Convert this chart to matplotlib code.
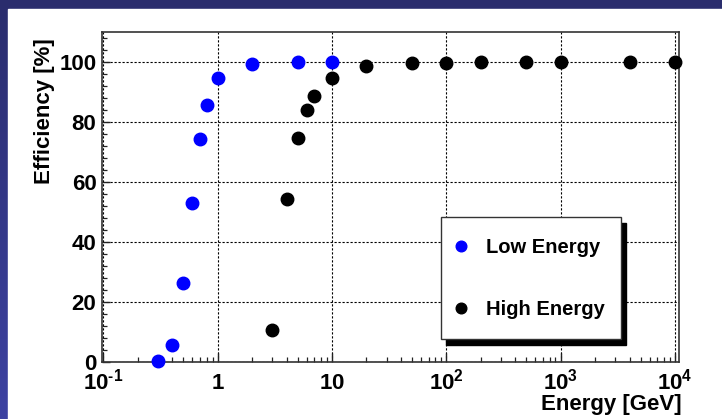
import numpy as np
import matplotlib
matplotlib.use("Agg")
from matplotlib import pyplot as plt
from matplotlib.patches import Rectangle
from matplotlib.ticker import FixedLocator, MultipleLocator, NullFormatter

# low energy trigger efficiency
low_e = [0.3, 0.4, 0.5, 0.6, 0.7, 0.8, 1.0, 2.0, 5.0, 10.0]
low_eff = [0.5, 5.6, 26.4, 53.0, 74.2, 85.8, 94.8, 99.4, 100.0, 100.0]

# high energy trigger efficiency
high_e = [3.0, 4.0, 5.0, 6.0, 7.0, 10.0, 20.0, 50.0, 100.0, 200.0,
          500.0, 1000.0, 4000.0, 10000.0]
high_eff = [10.6, 54.4, 74.6, 83.9, 88.7, 94.8, 98.6, 99.5, 99.8, 99.9,
            99.9, 100.0, 100.0, 100.0]

xtick_pos = [0.1, 1, 10, 100, 1000, 10000]
xtick_lab = [r"$10^{\text{-}1}$", r"$1$", r"$10$", r"$10^{2}$", r"$10^{3}$", r"$10^{4}$"]

plt.rcParams["font.family"] = ["Liberation Sans", "DejaVu Sans"]
plt.rcParams["font.weight"] = "bold"
plt.rcParams["mathtext.fontset"] = "custom"
plt.rcParams["mathtext.rm"] = "Liberation Sans:bold"
plt.rcParams["mathtext.it"] = "Liberation Sans:bold"
plt.rcParams["mathtext.bf"] = "Liberation Sans:bold"

W, H = 722, 419
fig = plt.figure(figsize=(W / 100, H / 100), dpi=100)

# blue slide frame with a slight gradient, white page on top
bg = fig.add_axes([0, 0, 1, 1], zorder=-10)
grad = np.linspace(0, 1, 256).reshape(-1, 1)
top_c = np.array([0x2a, 0x2d, 0x6d]) / 255
bot_c = np.array([0x3d, 0x42, 0xa2]) / 255
img = top_c[None, None, :] * (1 - grad[:, :, None]) + bot_c[None, None, :] * grad[:, :, None]
bg.imshow(img, aspect="auto", extent=[0, 1, 0, 1])
bg.add_patch(Rectangle((8 / W, 0), 1, (H - 9) / H, color="white", zorder=2))
bg.set_xlim(0, 1)
bg.set_ylim(0, 1)
bg.axis("off")

x0, x1, y0, y1 = 102, 679, 32, 362
ax = fig.add_axes([x0 / W, (H - y1) / H, (x1 - x0) / W, (y1 - y0) / H])
ax.set_xscale("log")
ax.set_xlim(10 ** -1.013, 10 ** 4.035)
ax.set_ylim(0, 110)

ax.plot(low_e, low_eff, "o", color="#0000ff", markersize=9, linestyle="none",
        label="Low Energy", clip_on=False, zorder=5)
ax.plot(high_e, high_eff, "o", color="black", markersize=9, linestyle="none",
        label="High Energy", clip_on=False, zorder=5)

# ticks
ax.xaxis.set_major_locator(FixedLocator(xtick_pos))
minors = [m * 10.0 ** d for d in range(-1, 4) for m in range(2, 10)]
ax.xaxis.set_minor_locator(FixedLocator(minors))
ax.xaxis.set_major_formatter(NullFormatter())
ax.xaxis.set_minor_formatter(NullFormatter())
ax.yaxis.set_major_locator(MultipleLocator(20))
ax.yaxis.set_minor_locator(MultipleLocator(4))
ax.tick_params(which="both", direction="in", top=False, right=False, color="#222222")
ax.tick_params(axis="y", which="major", length=6, width=1.0, labelsize=16, pad=4)
ax.tick_params(axis="y", which="minor", length=3.5, width=0.9)
ax.tick_params(axis="x", which="major", length=6.5, width=1.0)
ax.tick_params(axis="x", which="minor", length=3.8, width=0.9)
for lab in ax.get_yticklabels():
    lab.set_fontweight("bold")

for xp, xl in zip(xtick_pos, xtick_lab):
    ax.text(xp, -0.082, xl, transform=ax.get_xaxis_transform(), ha="center",
            va="baseline", fontsize=16, fontweight="bold")

ax.grid(True, which="major", color="black", linestyle=(0, (2, 1.6)), linewidth=0.8)
for s in ax.spines.values():
    s.set_linewidth(1.2)
    s.set_color("#333333")

ax.text(-0.1, 0.98, "Efficiency [%]", transform=ax.transAxes, rotation=90,
        ha="center", va="top", fontsize=16, fontweight="bold")
ax.text(1.004, -0.098, "Energy [GeV]", transform=ax.transAxes,
        ha="right", va="top", fontsize=16, fontweight="bold")

# ROOT-like legend box with a solid shadow
lx0, lx1, ly0, ly1 = 441, 621, 217, 339
ax.add_patch(Rectangle(((lx0 + 5) / W, (H - ly1 - 6) / H), (lx1 - lx0) / W,
                       (ly1 - ly0) / H, transform=fig.transFigure, clip_on=False,
                       facecolor="black", edgecolor="black", zorder=8))
ax.add_patch(Rectangle((lx0 / W, (H - ly1) / H), (lx1 - lx0) / W,
                       (ly1 - ly0) / H, transform=fig.transFigure, clip_on=False,
                       facecolor="white", edgecolor="#333333",
                       linewidth=1.0, zorder=9))
leg = ax.legend(loc="upper left", bbox_to_anchor=(456 / W, (H - 238) / H),
                bbox_transform=fig.transFigure, frameon=False,
                handlelength=0.5, handletextpad=1.0, labelspacing=2.15,
                borderpad=0, borderaxespad=0, markerscale=0.85,
                prop={"weight": "bold", "size": 14.5})
leg.set_zorder(10)

fig.savefig("out.png", dpi=100)
